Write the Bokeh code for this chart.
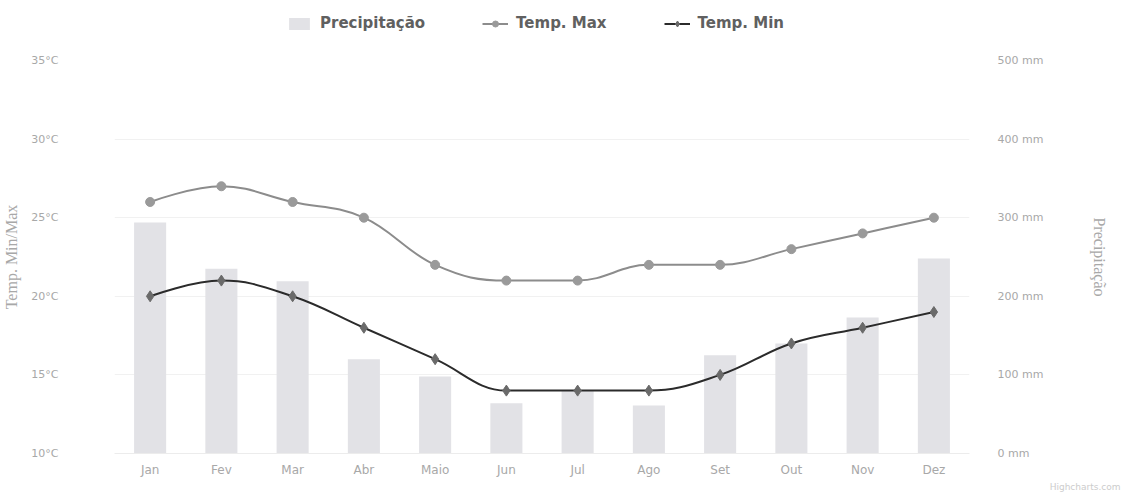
from bokeh.plotting import figure
from bokeh.layouts import column
from bokeh.models import (Range1d, LinearAxis, FixedTicker, Legend, LegendItem,
                          Title, CustomJSTickFormatter)
from bokeh.embed import file_html
from bokeh.resources import INLINE

# Monthly climate data
months = ["Jan", "Fev", "Mar", "Abr", "Maio", "Jun", "Jul", "Ago", "Set", "Out", "Nov", "Dez"]
precip_mm = [294, 235, 219, 120, 98, 64, 80, 61, 125, 140, 173, 248]
temp_max = [26, 27, 26, 25, 22, 21, 21, 22, 22, 23, 24, 25]
temp_min = [20, 21, 20, 18, 16, 14, 14, 14, 15, 17, 18, 19]

left_ticks = [10, 15, 20, 25, 30, 35]
right_ticks = [0, 100, 200, 300, 400, 500]

LABEL_GRAY = "#a8a8a8"
BAR_COLOR = "#e2e2e6"
MAX_LINE = "#8c8c8c"
MAX_MARK = "#9a9a9a"
MIN_LINE = "#2b2b2b"
MIN_MARK = "#6a6a6a"

WIDTH = 1123
HEADER_H = 52
MAIN_H = 498 - HEADER_H


def spline_controls(xs, ys, smoothing=1.5):
    """Cubic bezier segments for a smooth curve through the points
    (same smoothing rule as a classic 'spline' series)."""
    denom = smoothing + 1
    n = len(xs)
    left = [(xs[i], ys[i]) for i in range(n)]
    right = [(xs[i], ys[i]) for i in range(n)]
    for i in range(1, n - 1):
        x, y = xs[i], ys[i]
        lx = (smoothing * x + xs[i - 1]) / denom
        ly = (smoothing * y + ys[i - 1]) / denom
        rx = (smoothing * x + xs[i + 1]) / denom
        ry = (smoothing * y + ys[i + 1]) / denom
        if rx != lx:
            corr = ((ry - ly) * (rx - x)) / (rx - lx) + y - ry
            ly += corr
            ry += corr
        if ly > max(ys[i - 1], y):
            ly = max(ys[i - 1], y)
            ry = 2 * y - ly
        elif ly < min(ys[i - 1], y):
            ly = min(ys[i - 1], y)
            ry = 2 * y - ly
        if ry > max(ys[i + 1], y):
            ry = max(ys[i + 1], y)
            ly = 2 * y - ry
        elif ry < min(ys[i + 1], y):
            ry = min(ys[i + 1], y)
            ly = 2 * y - ry
        left[i] = (lx, ly)
        right[i] = (rx, ry)
    seg = dict(x0=[], y0=[], x1=[], y1=[], cx0=[], cy0=[], cx1=[], cy1=[])
    for i in range(1, n):
        seg["x0"].append(xs[i - 1]); seg["y0"].append(ys[i - 1])
        seg["x1"].append(xs[i]); seg["y1"].append(ys[i])
        seg["cx0"].append(right[i - 1][0]); seg["cy0"].append(right[i - 1][1])
        seg["cx1"].append(left[i][0]); seg["cy1"].append(left[i][1])
    return seg


xs = list(range(len(months)))

# ---------------- main chart ----------------
p = figure(width=WIDTH, height=MAIN_H, output_backend="svg", toolbar_location=None,
           x_range=Range1d(-0.5, len(months) - 0.5), y_range=Range1d(10, 35),
           min_border_left=113, min_border_right=154, min_border_top=8,
           min_border_bottom=45)
p.outline_line_color = None
p.background_fill_color = "white"
p.border_fill_color = "white"

p.extra_y_ranges = {"precip": Range1d(0, 500)}

# bottom axis: month names
p.xaxis.ticker = FixedTicker(ticks=xs)
p.xaxis.major_label_overrides = {i: m for i, m in enumerate(months)}
p.xaxis.major_tick_line_color = None
p.xaxis.minor_tick_line_color = None
p.xaxis.axis_line_color = "#ececec"
p.xaxis.major_label_text_color = LABEL_GRAY
p.xaxis.major_label_text_font = "DejaVu Sans"
p.xaxis.major_label_text_font_size = "12px"
p.xaxis.major_label_standoff = 3

# left axis: temperature
p.yaxis.ticker = FixedTicker(ticks=left_ticks)
p.yaxis.formatter = CustomJSTickFormatter(code="return tick + '\u00b0C';")
p.yaxis.axis_line_color = None
p.yaxis.major_tick_line_color = None
p.yaxis.minor_tick_line_color = None
p.yaxis.major_label_text_color = LABEL_GRAY
p.yaxis.major_label_text_font = "DejaVu Sans"
p.yaxis.major_label_text_font_size = "11px"
p.yaxis.major_label_standoff = 50
p.yaxis.axis_label = "Temp. Min/Max"
p.yaxis.axis_label_text_font = "Liberation Serif"
p.yaxis.axis_label_text_font_style = "normal"
p.yaxis.axis_label_text_font_size = "16px"
p.yaxis.axis_label_text_color = LABEL_GRAY
p.yaxis.axis_label_standoff = 8

# right axis: precipitation
raxis = LinearAxis(y_range_name="precip", ticker=FixedTicker(ticks=right_ticks),
                   formatter=CustomJSTickFormatter(code="return tick + ' mm';"))
raxis.axis_line_color = None
raxis.major_tick_line_color = None
raxis.minor_tick_line_color = None
raxis.major_label_text_color = LABEL_GRAY
raxis.major_label_text_font = "DejaVu Sans"
raxis.major_label_text_font_size = "11px"
raxis.major_label_standoff = 22
raxis.axis_label = "Precipitação"
raxis.axis_label_text_font = "Liberation Serif"
raxis.axis_label_text_font_style = "normal"
raxis.axis_label_text_font_size = "16px"
raxis.axis_label_text_color = LABEL_GRAY
raxis.axis_label_standoff = 45
p.add_layout(raxis, "right")

p.xgrid.grid_line_color = None
p.ygrid.ticker = FixedTicker(ticks=left_ticks)
p.ygrid.grid_line_color = "#f1f1f1"

# precipitation bars
p.vbar(x=xs, top=precip_mm, bottom=0, width=0.45, y_range_name="precip",
       fill_color=BAR_COLOR, line_color=None)

# smooth temperature curves
smax = spline_controls(xs, temp_max)
smin = spline_controls(xs, temp_min)
p.bezier(line_color=MAX_LINE, line_width=2, **smax)
p.scatter(xs, temp_max, marker="circle", size=9, fill_color=MAX_MARK,
          line_color=MAX_MARK)
p.bezier(line_color=MIN_LINE, line_width=2, **smin)
p.scatter(xs, temp_min, marker="diamond", size=11, fill_color=MIN_MARK,
          line_color=MIN_MARK)

credit = Title(text="Highcharts.com", align="right", offset=-151, standoff=0,
               text_font="DejaVu Sans", text_font_size="9px",
               text_color="#cccccc", text_font_style="normal")
p.add_layout(credit, "below")

# ---------------- legend strip above the chart ----------------
# The key renderers carry the same series but lie far below this strip's
# visible y-range, so only their legend swatches show.
head = figure(width=WIDTH, height=HEADER_H, output_backend="svg", toolbar_location=None,
              x_range=Range1d(-0.5, len(months) - 0.5), y_range=Range1d(5000, 5010),
              x_axis_location=None, y_axis_location=None,
              min_border_left=113, min_border_right=154, min_border_top=0,
              min_border_bottom=0)
head.outline_line_color = None
head.grid.grid_line_color = None
head.border_fill_color = "white"
head.background_fill_color = "white"

key_bar = head.vbar(x=xs, top=precip_mm, bottom=0, width=0.45,
                    fill_color=BAR_COLOR, line_color=None)
key_max_l = head.line(xs, temp_max, line_color=MAX_LINE, line_width=2)
key_max_m = head.scatter(xs, temp_max, marker="circle", size=9, fill_color=MAX_MARK,
                         line_color=MAX_MARK)
key_min_l = head.line(xs, temp_min, line_color=MIN_LINE, line_width=2)
key_min_m = head.scatter(xs, temp_min, marker="diamond", size=11, fill_color=MIN_MARK,
                         line_color=MIN_MARK)

legend = Legend(items=[
    LegendItem(label="Precipitação", renderers=[key_bar]),
    LegendItem(label="Temp. Max", renderers=[key_max_l, key_max_m]),
    LegendItem(label="Temp. Min", renderers=[key_min_l, key_min_m]),
], orientation="horizontal", location=(172, 20))
legend.label_text_font = "DejaVu Sans"
legend.label_text_font_style = "bold"
legend.label_text_font_size = "15px"
legend.label_text_color = "#606060"
legend.glyph_width = 26
legend.glyph_height = 15
legend.label_standoff = 8
legend.spacing = 57
legend.padding = 5
legend.margin = 0
legend.border_line_color = None
legend.background_fill_alpha = 0
head.add_layout(legend)

layout = column(head, p, spacing=0)
open("out.html", "w").write(file_html(layout, INLINE))
